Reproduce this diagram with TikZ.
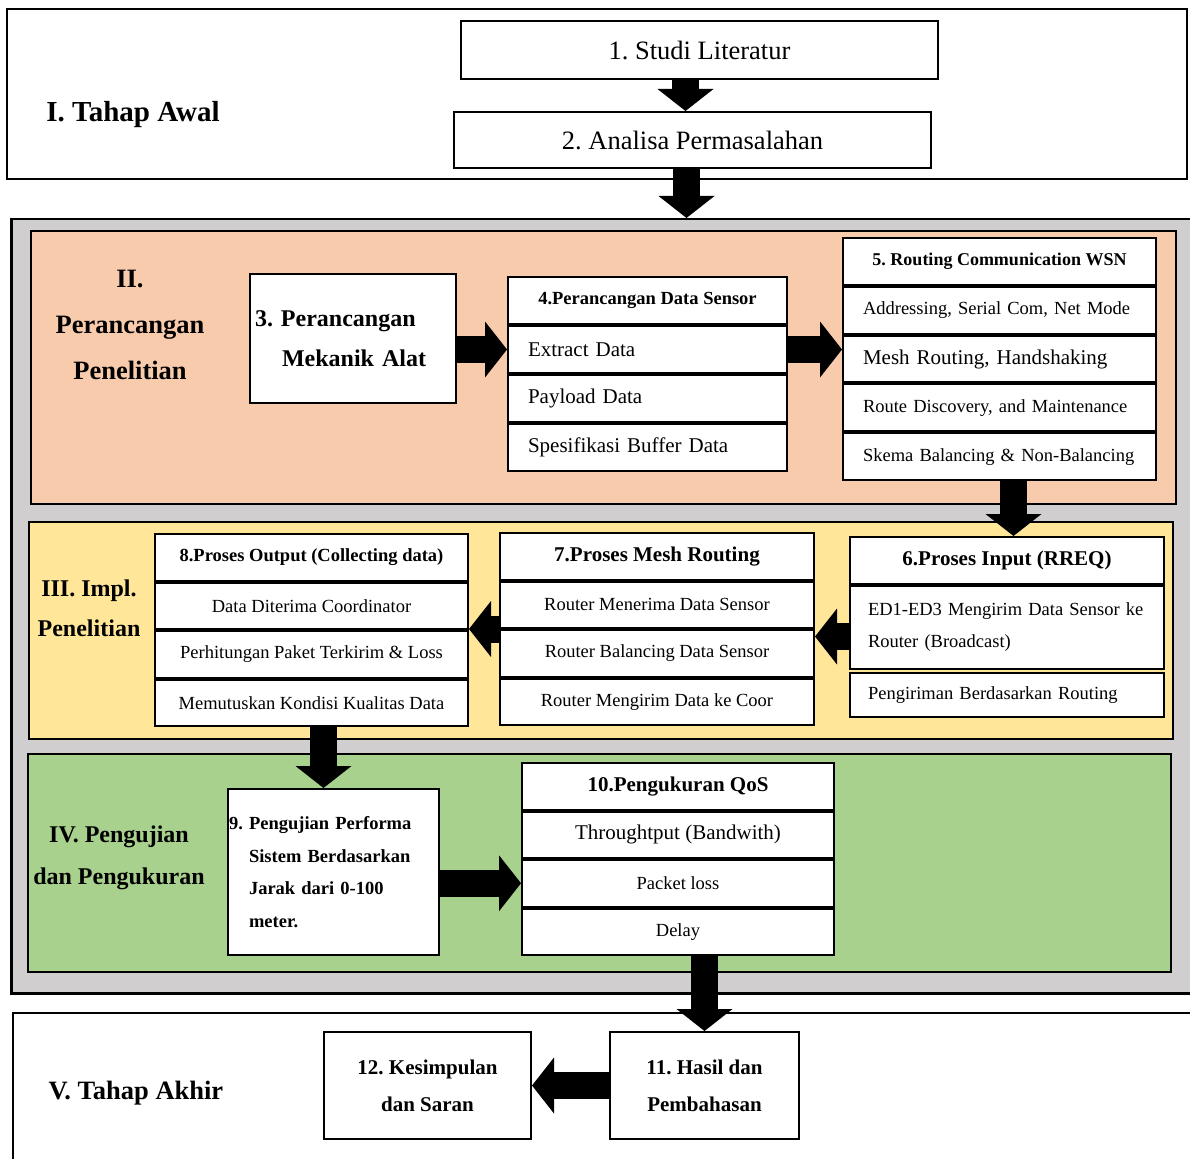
\documentclass[tikz,border=0pt]{standalone}
\usepackage{fontspec}
\setmainfont{Liberation Serif}
\usetikzlibrary{positioning,arrows.meta}
\frenchspacing

\definecolor{framegray}{HTML}{D0CECE}
\definecolor{peach}{HTML}{F8CBAD}
\definecolor{lightyellow}{HTML}{FFE699}
\definecolor{lightgreen}{HTML}{A9D18E}

\tikzset{
  frame/.style={draw, line width=2pt, anchor=north west, inner sep=0pt},
  box/.style={draw, line width=2pt, fill=white, anchor=north west, inner sep=0pt},
  cell/.style={draw, line width=2pt, fill=white, inner sep=0pt, align=center},
  blockarrow/.style={line width=27pt, -{Triangle[length=22pt,width=56pt,line width=0pt]}},
  fbig/.style={font=\fontsize{26.5}{30}\selectfont},
  hbold/.style={font=\bfseries\fontsize{21}{25}\selectfont},
  hsmall/.style={font=\bfseries\fontsize{18.5}{22}\selectfont},
  rmid/.style={font=\fontsize{21}{25}\selectfont},
  rsmall/.style={font=\fontsize{18.5}{22}\selectfont},
  t4/.style={cell, minimum width=279, minimum height=47},
  t5/.style={cell, minimum width=313, minimum height=46.8},
  t8/.style={cell, minimum width=313, minimum height=46.5},
  t7/.style={cell, minimum width=314, minimum height=46.5},
  t6/.style={cell, minimum width=314},
  t10/.style={cell, minimum width=312, minimum height=46.5}
}

\begin{document}
\begin{tikzpicture}[x=1pt, y=-1pt]
\path[use as bounding box, clip] (0,0) rectangle (1190,1158);

% frames
\node[frame, fill=white, minimum width=1180, minimum height=170] (f1) at (6,8) {};
\node[frame, fill=framegray, line width=2.5pt, minimum width=1190, minimum height=774] (f0) at (10,218) {};
\node[frame, fill=peach, minimum width=1145, minimum height=273] (f2) at (30,230) {};
\node[frame, fill=lightyellow, minimum width=1144, minimum height=217] (f3) at (28,521) {};
\node[frame, fill=lightgreen, minimum width=1143, minimum height=218] (f4) at (27,753) {};
\node[frame, fill=white, minimum width=1190, minimum height=170] (f5) at (12,1012) {};

% stage labels
\node[anchor=base, font=\bfseries\fontsize{29}{34}\selectfont] (l1) at (133,122) {I. Tahap Awal};
\node[align=center, font=\bfseries\fontsize{26.5}{46}\selectfont] (l2) at (130,325) {II.\\Perancangan\\Penelitian};
\node[align=center, font=\bfseries\fontsize{24}{40}\selectfont] (l3) at (89,608) {III. Impl.\\Penelitian};
\node[align=center, font=\bfseries\fontsize{24}{42}\selectfont] (l4) at (119,858) {IV. Pengujian\\dan Pengukuran};
\node[anchor=base, font=\bfseries\fontsize{26.5}{30}\selectfont] (l5) at (136,1099) {V. Tahap Akhir};

% tahap awal
\node[box, minimum width=477, minimum height=58, fbig] (s1) at (460,20) {1. Studi Literatur};
\node[box, minimum width=477, minimum height=56, fbig] (s2) at (453,111) {2. Analisa Permasalahan};

% perancangan
\node[box, minimum width=206, minimum height=129, inner xsep=5pt, text width=196, align=left,
  font=\bfseries\fontsize{24}{40}\selectfont] (s3) at (249,273) {3. Perancangan\\\hspace*{27pt}Mekanik Alat};

\node[t4, anchor=north west, hsmall] (s4a) at (507,276) {4.Perancangan Data Sensor};
\node[t4, below=0pt of s4a, text width=239, align=left, rmid] (s4b) {Extract Data};
\node[t4, below=0pt of s4b, text width=239, align=left, rmid] (s4c) {Payload Data};
\node[t4, below=0pt of s4c, text width=239, align=left, rmid] (s4d) {Spesifikasi Buffer Data};

\node[t5, anchor=north west, font=\bfseries\fontsize{18}{22}\selectfont] (s5a) at (842,237) {5. Routing Communication WSN};
\node[t5, below=0pt of s5a, text width=273, align=left, rsmall] (s5b) {Addressing, Serial Com, Net Mode};
\node[t5, below=0pt of s5b, text width=273, align=left, rmid] (s5c) {Mesh Routing, Handshaking};
\node[t5, below=0pt of s5c, text width=273, align=left, rsmall] (s5d) {Route Discovery, and Maintenance};
\node[t5, below=0pt of s5d, text width=273, align=left, rsmall] (s5e) {Skema Balancing \& Non-Balancing};

% implementasi
\node[t6, anchor=north west, minimum height=47, hbold] (s6a) at (849,536) {6.Proses Input (RREQ)};
\node[t6, below=0pt of s6a, minimum height=83, text width=278, align=left,
  font=\fontsize{18.5}{32}\selectfont] (s6b) {ED1-ED3 Mengirim Data Sensor ke\\Router (Broadcast)};
\node[t6, below=2pt of s6b, minimum height=44, text width=278, align=left, rsmall] (s6c) {Pengiriman Berdasarkan Routing};

\node[t7, anchor=north west, hbold] (s7a) at (499,532) {7.Proses Mesh Routing};
\node[t7, below=0pt of s7a, rsmall] (s7b) {Router Menerima Data Sensor};
\node[t7, below=0pt of s7b, rsmall] (s7c) {Router Balancing Data Sensor};
\node[t7, below=0pt of s7c, rsmall] (s7d) {Router Mengirim Data ke Coor};

\node[t8, anchor=north west, hsmall] (s8a) at (154,533) {8.Proses Output (Collecting data)};
\node[t8, below=0pt of s8a, rsmall] (s8b) {Data Diterima Coordinator};
\node[t8, below=0pt of s8b, rsmall] (s8c) {Perhitungan Paket Terkirim \& Loss};
\node[t8, below=0pt of s8c, rsmall] (s8d) {Memutuskan Kondisi Kualitas Data};

% pengujian
\node[box, minimum width=211, minimum height=166, inner xsep=1pt, text width=209, align=left,
  font=\bfseries\fontsize{18.5}{32.5}\selectfont] (s9) at (227,788)
  {9. Pengujian Performa\\\hspace*{20pt}Sistem Berdasarkan\\\hspace*{20pt}Jarak dari 0-100\\\hspace*{20pt}meter.};

\node[t10, anchor=north west, hbold] (s10a) at (521,762) {10.Pengukuran QoS};
\node[t10, below=0pt of s10a, rmid] (s10b) {Throughtput (Bandwith)};
\node[t10, below=0pt of s10b, rsmall] (s10c) {Packet loss};
\node[t10, below=0pt of s10c, rsmall] (s10d) {Delay};

% tahap akhir
\node[box, minimum width=189, minimum height=107, align=center,
  font=\bfseries\fontsize{21}{37}\selectfont] (s11) at (609,1031) {11. Hasil dan\\Pembahasan};
\node[box, minimum width=207, minimum height=107, align=center,
  font=\bfseries\fontsize{21}{37}\selectfont] (s12) at (323,1031) {12. Kesimpulan\\dan Saran};

% panah
\draw[blockarrow] ([xshift=-7pt]s2.north |- s1.south) -- ([xshift=-7pt]s2.north);
\draw[blockarrow] ([xshift=-6pt]s2.south) -- ([xshift=-6pt]s2.south |- f0.north);
\draw[blockarrow] (s3.east |- s4b.west) -- (s4b.west);
\draw[blockarrow] (s4b.east) -- (s4b.east -| s5c.west);
\draw[blockarrow] ([xshift=14pt]s5e.south) -- ([xshift=14pt]s5e.south |- s6a.north);
\draw[blockarrow] ([yshift=-9pt]s6b.west) -- ([yshift=-9pt]s6b.west -| s7b.east);
\draw[blockarrow] (s7b.south west) -- (s7b.south west -| s8b.east);
\draw[blockarrow] ([xshift=-10pt]s9.north |- s8d.south) -- ([xshift=-10pt]s9.north);
\draw[blockarrow] (s9.east |- s10c.west) -- (s10c.west);
\draw[blockarrow] (s10d.south -| s11.north) -- (s11.north);
\draw[blockarrow] (s11.west) -- (s12.east);
\end{tikzpicture}
\end{document}
